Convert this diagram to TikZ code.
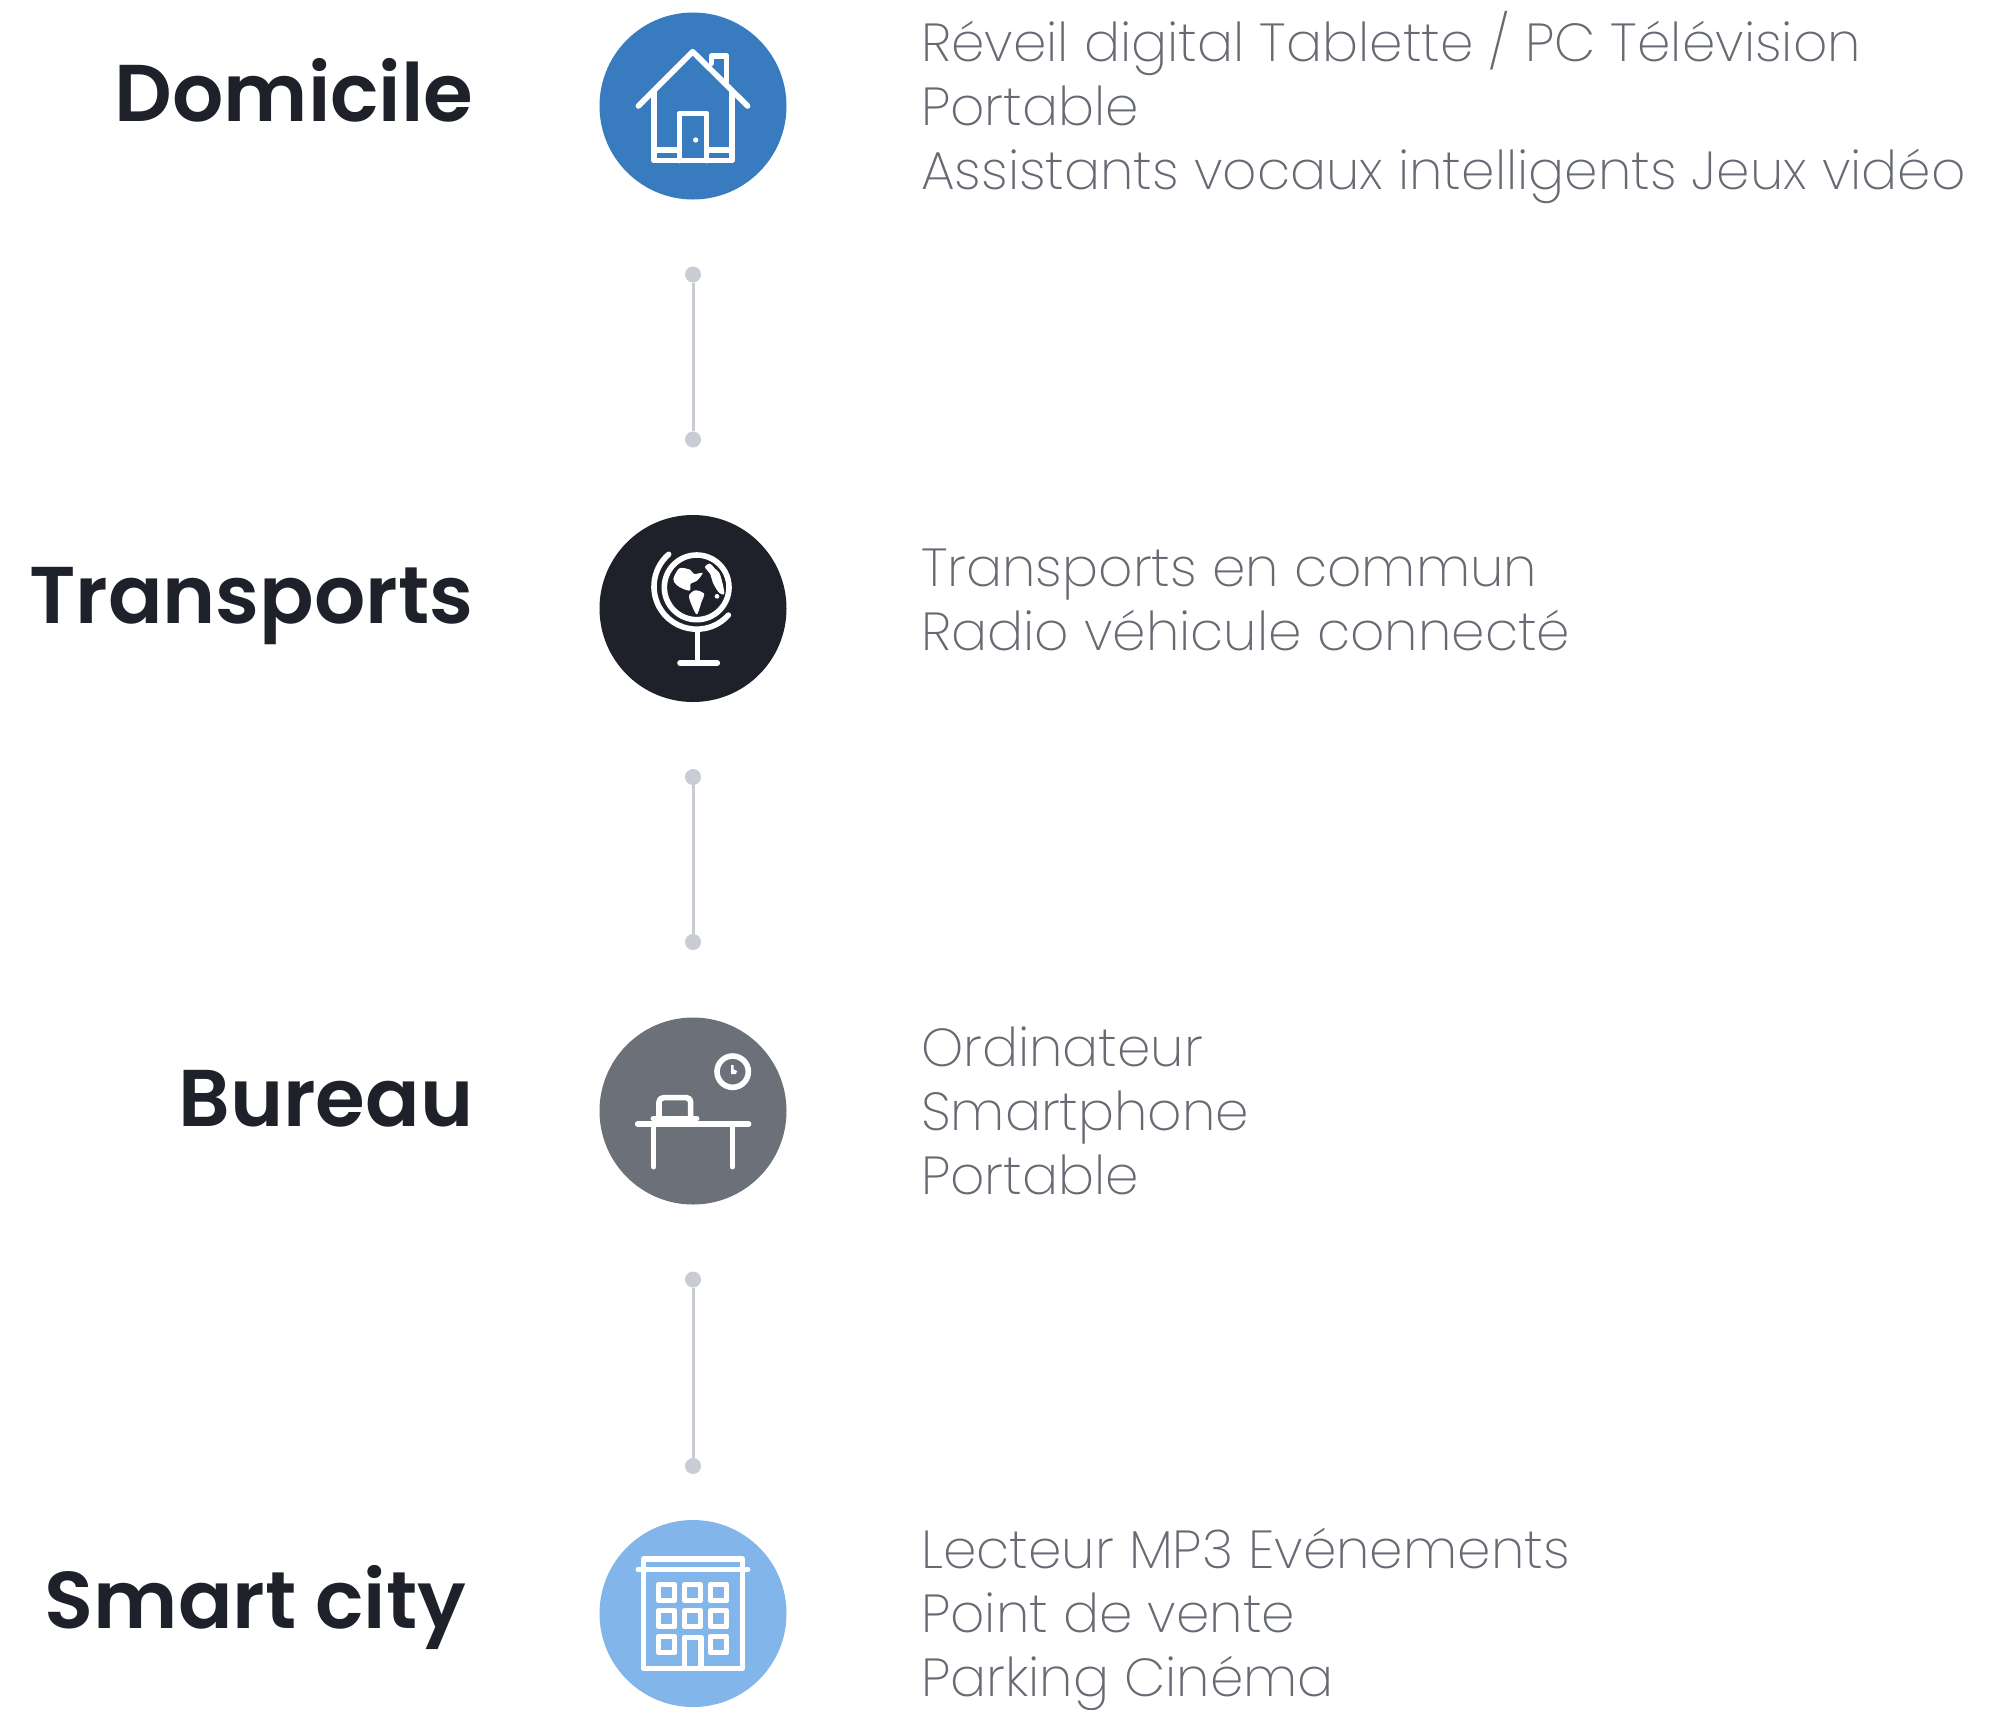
\documentclass[tikz,border=0pt]{standalone}
\usepackage{fontspec}
\setmainfont{Poppins}[UprightFont=* ExtraLight,BoldFont=* SemiBold]
\definecolor{cblue}{HTML}{387BBE}
\definecolor{cdark}{HTML}{1E2129}
\definecolor{cgrey}{HTML}{6C7078}
\definecolor{clight}{HTML}{82B5EA}
\definecolor{cline}{HTML}{C9CCD3}
\definecolor{ctext}{HTML}{666A72}
\tikzset{
  disc/.style={circle,minimum size=187pt,inner sep=0pt,fill=#1},
  dotn/.style={circle,minimum size=16pt,inner sep=0pt,fill=cline},
  link/.style={draw=cline,line width=3pt},
  title/.style={anchor=base east,inner sep=0pt,text=cdark,font=\fontsize{80.5}{81}\selectfont\bfseries},
  body/.style={anchor=base west,inner sep=0pt,text=ctext,font=\fontsize{53.55}{64}\selectfont},
  ico/.style={draw=white,line width=5.6pt,line cap=round,line join=round},
  icoB/.style={xscale=1/3,yscale=1/3}
}
\begin{document}
\begin{tikzpicture}[x=1pt,y=1pt,yscale=-1]
\useasboundingbox (0,0) rectangle (2007,1709);
\fill[white] (0,0) rectangle (2007,1709);
% discs
\node[disc=cblue] (d1) at (693,106) {};
\node[disc=cdark] (d2) at (693,608.5) {};
\node[disc=cgrey] (d3) at (693,1111) {};
\node[disc=clight] (d4) at (693,1613.5) {};
% connectors
\node[dotn] (a1) at (693,274.5) {};
\node[dotn] (b1) at (693,439.5) {};
\node[dotn] (a2) at (693,777) {};
\node[dotn] (b2) at (693,942) {};
\node[dotn] (a3) at (693,1279.5) {};
\node[dotn] (b3) at (693,1466) {};
\draw[link] (a1) -- (b1);
\draw[link] (a2) -- (b2);
\draw[link] (a3) -- (b3);
% titles
\node[title] (t1) at (473.5,121) {Domicile};
\node[title] (t2) at (473.5,623) {Transports};
\node[title] (t3) at (473.5,1126) {Bureau};
\node[title] (t4) at (466.5,1628) {Smart city};
% bodies
\node[body] (l1) at (921,61) {Réveil digital Tablette / PC Télévision};
\node[body] (l2) at (921,125) {Portable};
\node[body] (l3) at (921,189) {Assistants vocaux intelligents Jeux vidéo};
\node[body] (l4) at (921,586) {Transports en commun};
\node[body] (l5) at (921,650) {Radio véhicule connecté};
\node[body] (l6) at (921,1066) {Ordinateur};
\node[body] (l7) at (921,1130) {Smartphone};
\node[body] (l8) at (921,1194) {Portable};
\node[body] (l9) at (921,1568) {Lecteur MP3 Evénements};
\node[body] (l10) at (921,1632) {Point de vente};
\node[body] (l11) at (921,1696) {Parking Cinéma};
% house
\begin{scope}[shift={(590,0)},icoB]
\draw[ico] (145,318)--(308,155)--(473,318);
\draw[ico] (192,272)--(192,482)--(426,482)--(426,272);
\draw[ico] (192,450)--(268,450) (350,450)--(426,450);
\draw[ico] (268,482)--(268,340)--(350,340)--(350,482);
\fill[white] (317,420) circle[radius=8pt];
\draw[ico] (364,190)--(364,168)--(410,168)--(410,245);
\end{scope}
% globe
\begin{scope}[shift={(590,505)},icoB]
\draw[ico] (320,247) circle[radius=97pt];
\draw[ico] (236,148) arc[start angle=229,end angle=42,radius=128pt];
\draw[ico] (323,378)--(323,474) (270,474)--(382,474);
\fill[white] plot[smooth cycle,tension=.5] coordinates {(250,222)(268,190)(300,194)(312,207)(338,204)(320,228)(302,236)(300,256)(280,252)(260,240)};
\fill[white] plot[smooth cycle,tension=.5] coordinates {(297,272)(316,256)(342,266)(334,292)(321,328)(307,305)};
\fill[white] plot[smooth cycle,tension=.5] coordinates {(345,186)(360,176)(374,190)(390,208)(403,264)(388,264)(369,234)(361,208)};
\fill[white] (381,274) circle[radius=7pt];
\end{scope}
% desk
\begin{scope}[shift={(590,1010)},icoB]
\draw[ico] (143,342)--(476,342);
\draw[ico] (191,342)--(191,470) (427,342)--(427,470);
\draw[ico] (207,322)--(207,276) to[out=-90,in=180] (220,263) -- (290,263) to[out=0,in=-90] (302,276)--(302,322);
\draw[ico] (190,326)--(320,326);
\draw[ico] (428,185) circle[radius=47pt];
\fill[white] (423,165)--(431,165)--(431,178)--(441,183)--(438,192)--(423,192)--cycle;
\end{scope}
% building
\begin{scope}[shift={(590,1510)},icoB]
\draw[ico] (160,147) rectangle (457,475);
\draw[ico] (145,178)--(473,178);
\foreach \cx in {230,308,386}
  \foreach \cy in {248,326}
    \draw[ico] (\cx-24,\cy-24) rectangle (\cx+24,\cy+24);
\draw[ico] (206,380) rectangle (254,428);
\draw[ico] (362,380) rectangle (410,428);
\draw[ico] (284,475)--(284,382)--(333,382)--(333,475);
\end{scope}
\end{tikzpicture}
\end{document}
